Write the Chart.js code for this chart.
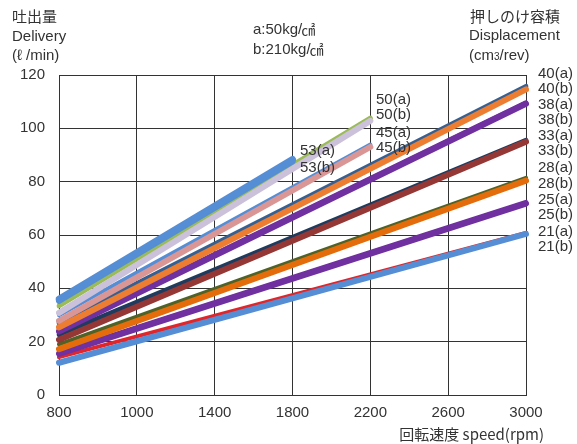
<!DOCTYPE html>
<html>
<head>
<meta charset="utf-8">
<script src="https://cdn.jsdelivr.net/npm/chart.js@4"></script>
<style>
  html, body { margin: 0; padding: 0; background: #fff; }
  canvas { display: block; }
</style>
</head>
<body>
<canvas id="myChart" width="577" height="444"></canvas>
<script>
// x axis: evenly spaced speed steps (rpm)
const speeds = ['800', '1000', '1400', '1800', '2200', '2600', '3000'];
const yTicks = [0, 20, 40, 60, 80, 100, 120];

// one entry per line
const seriesNames = ['53(a)', '53(b)', '50(a)', '50(b)', '45(a)', '45(b)', '40(a)', '40(b)', '38(a)', '38(b)',
                     '33(a)', '33(b)', '28(a)', '28(b)', '25(a)', '25(b)', '21(a)', '21(b)'];
const deliveryAt800 = [35.9, 35.3, 33.4, 30.8, 29.9, 27.8, 27.0, 25.4, 24.4, 23.8,
                       22.7, 20.7, 19.0, 17.2, 15.9, 15.4, 14.2, 12.1];
const deliveryAtEnd = [88.3, 87.6, 103.8, 102.8, 93.9, 93.0, 115.7, 114.6, 109.6, 109.2,
                       95.5, 95.0, 81.4, 80.4, 72.2, 71.8, 60.8, 60.4];
const endSpeed = ['1800', '1800', '2200', '2200', '2200', '2200', '3000', '3000', '3000', '3000',
                  '3000', '3000', '3000', '3000', '3000', '3000', '3000', '3000'];

const lineColors = ['#558ed5', '#558ed5', '#9bbb59', '#ccc1da', '#558ed5', '#d99694', '#376092', '#ed7d31', '#7030a0', '#7030a0',
                    '#1f3b5e', '#953735', '#4f6228', '#e46c0a', '#7030a0', '#7030a0', '#e0262b', '#558ed5'];
const lineWidths = [7, 6, 5, 6, 4, 6, 5, 6, 5, 6,
                    5, 6, 4, 6, 5, 6, 4, 6];

// labels at the right edge (names + y position in px)
const rightLabels = ['40(a)', '40(b)', '38(a)', '38(b)', '33(a)', '33(b)', '28(a)', '28(b)', '25(a)', '25(b)', '21(a)', '21(b)'];
const rightLabelY = [74, 89, 105, 120, 136, 151, 168, 184, 200, 215, 232, 247];
const innerLabels = [['53(a)', 300, 151], ['53(b)', 300, 168], ['50(a)', 376, 100], ['50(b)', 376, 115], ['45(a)', 376, 133], ['45(b)', 376, 148]];

const FONT = '"Liberation Sans", "Noto Sans CJK JP", sans-serif';
const JFONT = '"Noto Sans CJK JP", sans-serif';
const TXT = '#333333';
const GRID = '#333333';

const datasets = seriesNames.map((name, i) => {
    const data = speeds.map(() => null);
    data[0] = deliveryAt800[i];
    data[speeds.indexOf(endSpeed[i])] = deliveryAtEnd[i];
    return {
        label: name,
        data: data,
        borderColor: lineColors[i],
        backgroundColor: lineColors[i],
        borderWidth: lineWidths[i],
        borderCapStyle: 'round',
        pointRadius: 0,
        spanGaps: true,
        tension: 0,
        // (b) lines sit on top of their (a) partner, 53(a) stays on top
        order: name.endsWith('(b)') ? 1 : 2
    };
});
datasets[0].order = 0;

const textPlugin = {
    id: 'texts',
    afterDraw(chart) {
        const c = chart.ctx;
        c.save();
        c.fillStyle = TXT;
        c.textBaseline = 'middle';
        c.textAlign = 'left';
        c.font = '15px ' + JFONT;
        c.fillText('吐出量', 12, 16);
        c.fillText('押しのけ容積', 470, 16);
        c.font = '15px ' + FONT;
        c.fillText('Delivery', 12, 37);
        c.fillText('(ℓ /min)', 12, 56);
        c.fillText('Displacement', 469, 36);
        c.fillText('(cm', 469, 56);
        let w = c.measureText('(cm').width;
        c.font = '10px ' + FONT;
        c.fillText('3', 469 + w, 57);
        let w2 = c.measureText('3').width;
        c.font = '15px ' + FONT;
        c.fillText('/rev)', 469 + w + w2, 56);

        c.fillText('a:50kg/', 253, 30);
        let wa = c.measureText('a:50kg/').width;
        c.fillText('b:210kg/', 253, 50);
        let wb = c.measureText('b:210kg/').width;
        c.font = '14px ' + JFONT;
        c.fillText('㎠', 252 + wa, 30);
        c.fillText('㎠', 252 + wb, 50);

        c.font = '15px ' + FONT;
        rightLabels.forEach((t, i) => c.fillText(t, 538, rightLabelY[i]));
        innerLabels.forEach(l => c.fillText(l[0], l[1], l[2]));

        c.textAlign = 'right';
        c.font = '15px ' + JFONT;
        c.fillText('回転速度 speed(rpm)', 544, 434);
        c.restore();
    }
};

var ctx = document.getElementById('myChart').getContext('2d');
var myChart = new Chart(ctx, {
    type: 'line',
    data: {
        labels: speeds,
        datasets: datasets
    },
    options: {
        responsive: false,
        animation: false,
        devicePixelRatio: 1,
        layout: { padding: { left: 0, top: 75, right: 51, bottom: 0 } },
        plugins: {
            legend: { display: false },
            tooltip: { enabled: false }
        },
        scales: {
            x: {
                type: 'category',
                offset: false,
                grid: { color: GRID, lineWidth: 1, drawTicks: false },
                border: { color: GRID, width: 1 },
                ticks: { color: TXT, font: { family: FONT, size: 15 }, padding: 9, maxRotation: 0, autoSkip: false },
                afterFit: s => { s.height = 49; }
            },
            y: {
                min: 0,
                max: 120,
                grid: { color: GRID, lineWidth: 1, drawTicks: false },
                border: { color: GRID, width: 1 },
                ticks: { color: TXT, font: { family: FONT, size: 15 }, padding: 14, stepSize: 20 },
                afterBuildTicks: s => { s.ticks = yTicks.map(v => ({ value: v })); },
                afterFit: s => { s.width = 59; }
            }
        }
    },
    plugins: [textPlugin]
});
</script>
</body>
</html>
